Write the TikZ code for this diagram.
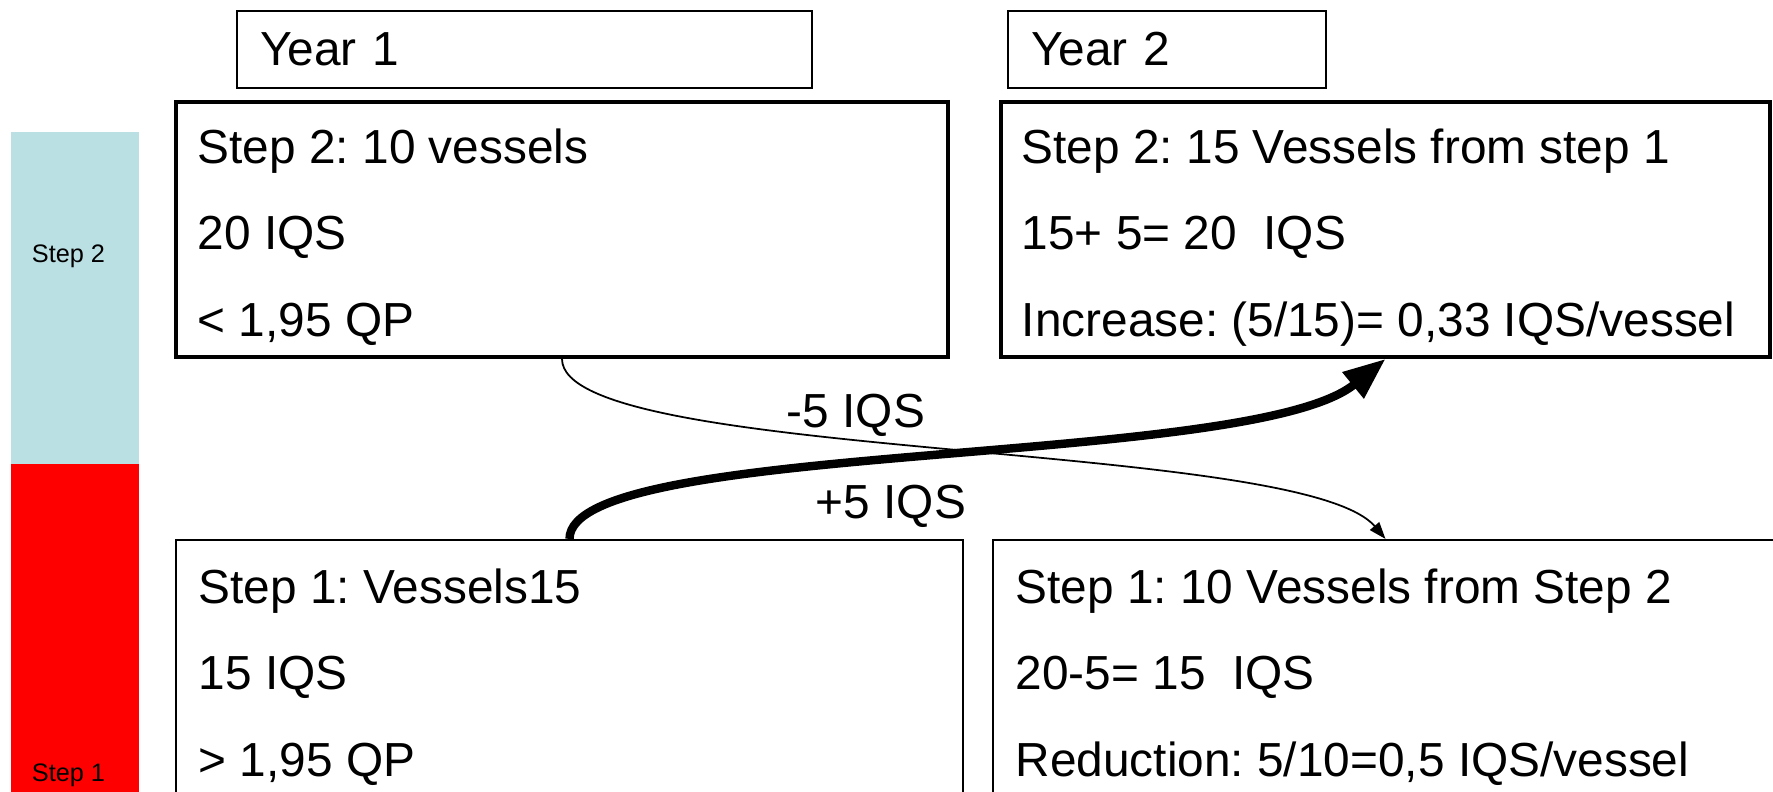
\documentclass[tikz,border=0pt]{standalone}
\usepackage{fontspec}
\setmainfont{Liberation Sans}
\usetikzlibrary{arrows.meta,positioning}
\definecolor{steptwo}{RGB}{187,224,227}
\frenchspacing
\tikzset{
  yearbox/.style={draw, line width=0.4pt, minimum height=0.77cm, inner xsep=0.23cm,
    align=left, font=\fontsize{13.6}{16}\selectfont},
  stepbox/.style={draw, inner sep=0pt},
  boxtext/.style={inner sep=0pt, align=left, font=\fontsize{13.6}{24.6}\selectfont},
  sidelabel/.style={inner sep=0pt, font=\fontsize{7.2}{8}\selectfont},
  flowlabel/.style={inner sep=0pt, font=\fontsize{13.6}{16}\selectfont}
}
\begin{document}
\begin{tikzpicture}[x=1cm,y=-1cm]
\useasboundingbox (0,0) rectangle (17.73,7.91);
\clip (0,0) rectangle (17.73,7.91);

% step bars
\fill[steptwo] (0.11,1.32) rectangle (1.39,4.64);
\fill[red] (0.11,4.64) rectangle (1.39,8.0);
\node[sidelabel, anchor=base] (bartwo) at (0.685,2.62) {Step 2};
\node[sidelabel, anchor=base] (barone) at (0.685,7.81) {Step 1};

% years
\node[yearbox, text width=5.29cm] (yearone) at (5.245,0.495) {Year 1};
\node[yearbox, text width=2.72cm] (yeartwo) at (11.67,0.495) {Year 2};

% boxes
\node[stepbox, line width=1.1pt, minimum width=7.72cm, minimum height=2.55cm] (s2y1) at (5.62,2.295) {};
\node[stepbox, line width=1.1pt, minimum width=7.69cm, minimum height=2.55cm] (s2y2) at (13.855,2.295) {};
\node[stepbox, line width=0.6pt, minimum width=7.87cm, minimum height=2.61cm] (s1y1) at (5.695,6.705) {};
\node[stepbox, line width=0.6pt, minimum width=7.85cm, minimum height=2.61cm] (s1y2) at (13.855,6.705) {};

\node[boxtext, anchor=north west] (s2y1txt) at ([xshift=0.23cm,yshift=-0.28cm]s2y1.north west)
  {Step 2: 10 vessels\\ 20 IQS\\ < 1,95 QP};
\node[boxtext, anchor=north west] (s2y2txt) at ([xshift=0.22cm,yshift=-0.28cm]s2y2.north west)
  {Step 2: 15 Vessels from step 1\\ 15+ 5= 20\ \ IQS\\ Increase: (5/15)= 0,33 IQS/vessel};
\node[boxtext, anchor=north west] (s1y1txt) at ([xshift=0.23cm,yshift=-0.29cm]s1y1.north west)
  {Step 1: Vessels15\\ 15 IQS\\ > 1,95 QP};
\node[boxtext, anchor=north west] (s1y2txt) at ([xshift=0.23cm,yshift=-0.29cm]s1y2.north west)
  {Step 1: 10 Vessels from Step 2\\ 20-5= 15\ \ IQS\\ Reduction: 5/10=0,5 IQS/vessel};

% transfers
\draw[line width=0.5pt, -{Triangle[length=0.17cm,width=0.12cm]}]
  (s2y1.south) .. controls +(0,1.03) and +(-0.85,-1.0) .. (s1y2.north);
\draw[line width=2.4pt, -{Triangle[length=0.42cm,width=0.32cm]}]
  (s1y1.north) .. controls +(0,-1.0) and +(-1.35,1.1) .. (s2y2.south);
\node[flowlabel] (minus) at (8.56,4.15) {-5 IQS};
\node[flowlabel] (plus) at (8.91,5.06) {+5 IQS};
\end{tikzpicture}
\end{document}
